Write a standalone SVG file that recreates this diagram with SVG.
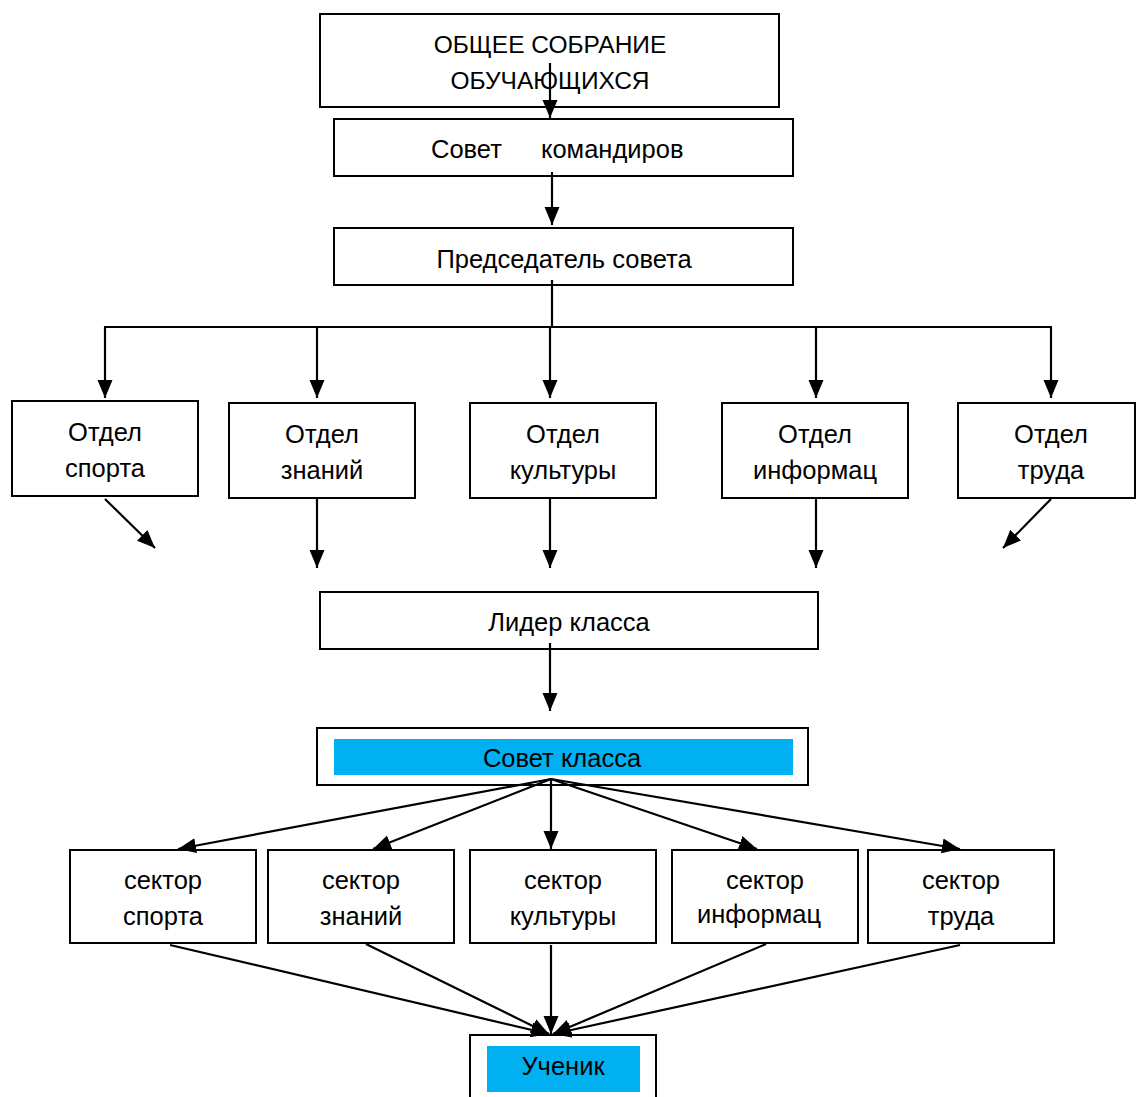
<svg xmlns="http://www.w3.org/2000/svg" width="1136" height="1097" viewBox="0 0 1136 1097">
<style>
.box{fill:#fff;stroke:#000;stroke-width:2}
.blue{fill:#00B0F0;stroke:none}
.t{font-family:"Liberation Sans",Arial,sans-serif;font-size:25.5px;fill:#000;text-anchor:middle}
.u{font-size:24.5px}
.s{text-anchor:start}
.c{stroke:#000;stroke-width:2.2;fill:none}
.a{marker-end:url(#ah)}
</style>
<defs>
<marker id="ah" markerUnits="userSpaceOnUse" markerWidth="18" markerHeight="16" viewBox="0 0 18 16" refX="18" refY="8" orient="auto">
<path d="M0,0.5 L18,8 L0,15.5 Z" fill="#000"/>
</marker>
</defs>
<rect width="1136" height="1097" fill="#fff"/>
<g id="n-obshee"><rect class="box" x="320" y="14" width="459" height="93"/><text class="t u" x="550" y="53">ОБЩЕЕ СОБРАНИЕ</text><text class="t u" x="550" y="89">ОБУЧАЮЩИХСЯ</text></g>
<g id="n-sovet-kom"><rect class="box" x="334" y="119" width="459" height="57"/><text class="t s" x="431" y="158">Совет</text><text class="t s" x="541" y="158">командиров</text></g>
<g id="n-pred"><rect class="box" x="334" y="228" width="459" height="57"/><text class="t" x="564" y="268">Председатель совета</text></g>
<g id="n-otd-sport"><rect class="box" x="12" y="401" width="186" height="95"/><text class="t" x="105" y="441">Отдел</text><text class="t" x="105" y="477">спорта</text></g>
<g id="n-otd-znan"><rect class="box" x="229" y="403" width="186" height="95"/><text class="t" x="322" y="443">Отдел</text><text class="t" x="322" y="479">знаний</text></g>
<g id="n-otd-kult"><rect class="box" x="470" y="403" width="186" height="95"/><text class="t" x="563" y="443">Отдел</text><text class="t" x="563" y="479">культуры</text></g>
<g id="n-otd-inf"><rect class="box" x="722" y="403" width="186" height="95"/><text class="t" x="815" y="443">Отдел</text><text class="t" x="815" y="479">информац</text></g>
<g id="n-otd-trud"><rect class="box" x="958" y="403" width="177" height="95"/><text class="t" x="1051" y="443">Отдел</text><text class="t" x="1051" y="479">труда</text></g>
<g id="n-lider"><rect class="box" x="320" y="592" width="498" height="57"/><text class="t" x="569" y="631">Лидер класса</text></g>
<g id="n-sovet-kl"><rect class="box" x="317" y="728" width="491" height="57"/><rect class="blue" x="334" y="739" width="459" height="36"/><text class="t" x="562" y="767">Совет класса</text></g>
<g id="n-sek-sport"><rect class="box" x="70" y="850" width="186" height="93"/><text class="t" x="163" y="889">сектор</text><text class="t" x="163" y="925">спорта</text></g>
<g id="n-sek-znan"><rect class="box" x="268" y="850" width="186" height="93"/><text class="t" x="361" y="889">сектор</text><text class="t" x="361" y="925">знаний</text></g>
<g id="n-sek-kult"><rect class="box" x="470" y="850" width="186" height="93"/><text class="t" x="563" y="889">сектор</text><text class="t" x="563" y="925">культуры</text></g>
<g id="n-sek-inf"><rect class="box" x="672" y="850" width="186" height="93"/><text class="t" x="765" y="889">сектор</text><text class="t" x="759" y="923">информац</text></g>
<g id="n-sek-trud"><rect class="box" x="868" y="850" width="186" height="93"/><text class="t" x="961" y="889">сектор</text><text class="t" x="961" y="925">труда</text></g>
<g id="n-uchenik"><rect class="box" x="470" y="1035" width="186" height="70"/><rect class="blue" x="487" y="1046" width="153" height="46"/><text class="t" x="563" y="1075">Ученик</text></g>
<g id="connectors">
<line class="c a" x1="550" y1="63" x2="550" y2="118"/>
<line class="c a" x1="552" y1="172" x2="552" y2="225"/>
<line class="c" x1="552" y1="280" x2="552" y2="327"/>
<line class="c" x1="104" y1="327" x2="1052" y2="327"/>
<line class="c a" x1="105" y1="327" x2="105" y2="398"/>
<line class="c a" x1="317" y1="327" x2="317" y2="398"/>
<line class="c a" x1="550" y1="327" x2="550" y2="398"/>
<line class="c a" x1="816" y1="327" x2="816" y2="398"/>
<line class="c a" x1="1051" y1="327" x2="1051" y2="398"/>
<line class="c a" x1="105" y1="499" x2="155" y2="548"/>
<line class="c a" x1="317" y1="498" x2="317" y2="568"/>
<line class="c a" x1="550" y1="498" x2="550" y2="568"/>
<line class="c a" x1="816" y1="498" x2="816" y2="568"/>
<line class="c a" x1="1051" y1="499" x2="1003" y2="548"/>
<line class="c a" x1="550" y1="643" x2="550" y2="711"/>
<line class="c a" x1="551" y1="779" x2="178" y2="849"/>
<line class="c a" x1="551" y1="779" x2="373" y2="849"/>
<line class="c a" x1="551" y1="779" x2="551" y2="849"/>
<line class="c a" x1="551" y1="779" x2="757" y2="849"/>
<line class="c a" x1="551" y1="779" x2="960" y2="849"/>
<line class="c a" x1="170" y1="945" x2="549" y2="1034"/>
<line class="c a" x1="366" y1="944" x2="549" y2="1034"/>
<line class="c a" x1="551" y1="945" x2="551" y2="1034"/>
<line class="c a" x1="766" y1="944" x2="553" y2="1034"/>
<line class="c a" x1="960" y1="945" x2="553" y2="1034"/>
</g>
</svg>
